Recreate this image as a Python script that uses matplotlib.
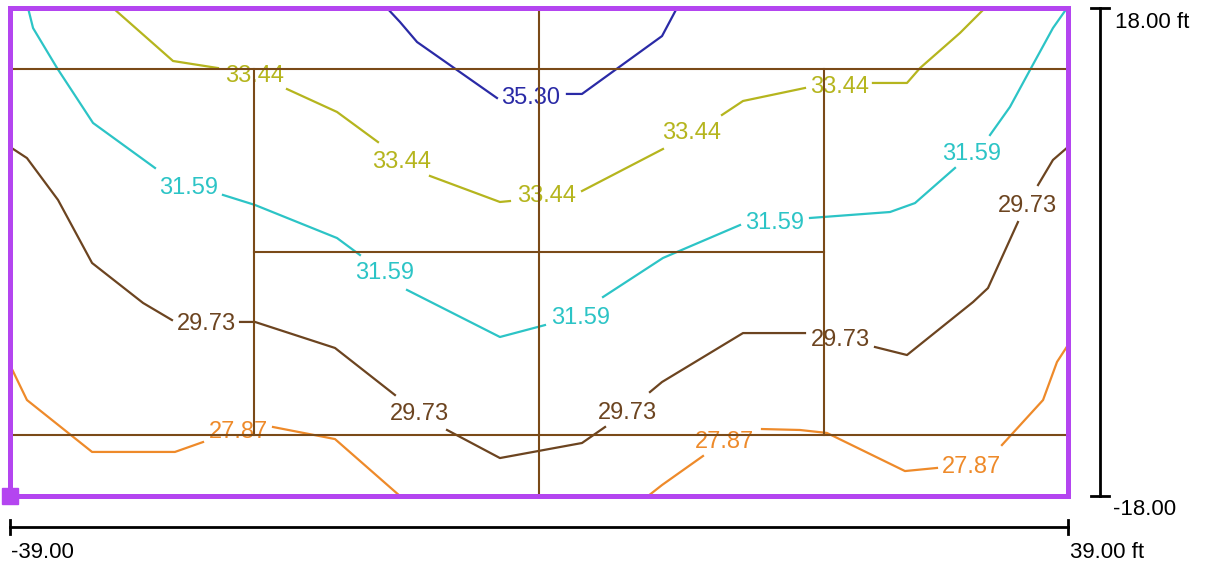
import matplotlib
matplotlib.use('Agg')
import matplotlib.pyplot as plt
from matplotlib.transforms import offset_copy

plt.rcParams['font.family'] = ['Liberation Sans', 'DejaVu Sans']

# Court extents (ft)
x_min, x_max = -39.0, 39.0
y_min, y_max = -18.0, 18.0

# Court markings
singles_y = [-13.5, 13.5]
service_x = [-21.0, 21.0]
net_x = 0.0
center_service_y = 0.0

# Contour levels, colours and label positions
levels = ['35.30', '33.44', '31.59', '29.73', '27.87']
level_colors = ['#2a2aa6', '#b5b51e', '#2cc4c6', '#6c4420', '#ee8a2a']

# each contour level: list of polyline segments (x list, y list), split at label gaps
contour_35_30 = [
    ([-11.21, -10.25, -8.99, -3.10], [18.0, 16.97, 15.49, 11.36]),
    ([2.06, 3.17, 9.07, 10.17], [11.66, 11.66, 15.93, 18.0]),
]
labels_35_30 = [(-0.59, 11.51)]

contour_33_44 = [
    ([-31.41, -26.98, -23.67], [18.0, 14.09, 13.57]),
    ([-18.58, -14.89, -11.87], [12.02, 10.33, 8.11]),
    ([-8.04, -2.88, -2.14], [5.61, 3.69, 3.76]),
    ([3.17, 9.14], [4.50, 7.60]),
    ([13.49, 15.04, 19.61], [10.11, 11.14, 12.10]),
    ([24.62, 27.13, 28.09, 31.04, 32.88], [12.47, 12.47, 13.57, 16.16, 18.0]),
]
labels_33_44 = [(-20.94, 13.20), (-10.10, 6.79), (0.59, 4.28), (11.28, 8.93), (22.19, 12.39)]

contour_31_59 = [
    ([-37.67, -37.30, -35.53, -32.88, -28.31], [18.0, 16.52, 13.57, 9.52, 6.20]),
    ([-23.30, -20.94, -14.89, -13.20], [4.21, 3.47, 1.03, -0.22]),
    ([-9.73, -2.88, 0.44], [-2.80, -6.27, -5.39]),
    ([4.72, 9.14, 14.82], [-3.32, -0.44, 1.99]),
    ([19.98, 25.88, 27.72, 30.67], [2.51, 2.95, 3.61, 6.20]),
    ([33.25, 34.72, 36.20, 37.89, 38.93], [8.63, 10.70, 13.43, 16.52, 18.0]),
]
labels_31_59 = [(-25.80, 4.87), (-11.35, -1.40), (3.10, -4.65), (17.40, 2.29), (31.92, 7.38)]

contour_29_73 = [
    ([-39.0, -37.75, -35.46, -32.95, -29.19, -27.06], [7.75, 6.93, 3.84, -0.81, -3.76, -5.02]),
    ([-22.04, -20.94, -15.04, -10.62], [-5.16, -5.16, -7.08, -10.55]),
    ([-6.78, -2.88, 3.17, 4.87], [-13.13, -15.20, -14.09, -12.91]),
    ([8.18, 9.07, 15.04, 19.61], [-10.33, -9.59, -5.98, -5.98]),
    ([24.77, 27.13, 32.00, 33.10, 35.31], [-7.01, -7.60, -3.69, -2.66, 2.21]),
    ([36.79, 37.89, 39.0], [4.94, 6.79, 7.75]),
]
labels_29_73 = [(-24.55, -5.16), (-8.85, -11.80), (6.49, -11.66), (22.19, -6.34), (35.98, 3.61)]

contour_27_87 = [
    ([-39.0, -37.75, -32.95, -26.84, -24.77], [-8.34, -10.92, -14.75, -14.75, -14.02]),
    ([-19.61, -15.04, -10.25], [-12.91, -13.80, -18.0]),
    ([8.04, 9.07, 12.09], [-18.0, -17.19, -15.05]),
    ([16.44, 19.24, 21.23, 26.98, 29.34], [-13.06, -13.13, -13.35, -16.16, -15.93]),
    ([34.13, 37.16, 38.19, 39.0], [-14.24, -10.92, -8.11, -6.86]),
]
labels_27_87 = [(-22.19, -13.13), (13.71, -13.80), (31.85, -15.64)]

contours = [contour_35_30, contour_33_44, contour_31_59, contour_29_73, contour_27_87]
label_pos = [labels_35_30, labels_33_44, labels_31_59, labels_29_73, labels_27_87]

fig = plt.figure(figsize=(12.05, 5.71), dpi=100)
ax = fig.add_axes([10 / 1205, 75 / 571, 1058 / 1205, 488 / 571])
ax.set_xlim(x_min, x_max)
ax.set_ylim(y_min, y_max)
ax.axis('off')

# labels sit a touch lower than bbox-centre
label_tf = offset_copy(ax.transData, fig=fig, x=0, y=-2.5, units='dots')

court_color = '#7a4a18'
court_lw = 1.5
# singles sidelines
for y in singles_y:
    ax.plot([x_min, x_max], [y, y], color=court_color, lw=court_lw, zorder=4)
# service lines
for x in service_x:
    ax.plot([x, x], [singles_y[0], singles_y[1]], color=court_color, lw=court_lw, zorder=4)
# center service line and net
ax.plot(service_x, [center_service_y, center_service_y], color=court_color, lw=court_lw, zorder=4)
ax.plot([net_x, net_x], [y_min, y_max], color=court_color, lw=court_lw, zorder=4)

# contour lines and labels
for segs, labs, lev, col in zip(contours, label_pos, levels, level_colors):
    for xs, ys in segs:
        ax.plot(xs, ys, color=col, lw=1.6, zorder=3)
    for lx, ly in labs:
        ax.text(lx, ly, lev, color=col, fontsize=17, ha='center', va='center',
                transform=label_tf, zorder=3)

# purple border
border = '#b445f0'
ax.plot([x_min, x_max, x_max, x_min, x_min], [y_min, y_min, y_max, y_max, y_min],
        color=border, lw=3.6, solid_joinstyle='miter', clip_on=False, zorder=5)
ax.plot([x_min], [y_min], marker='s', markersize=11, color=border, clip_on=False, zorder=6)

# dimension bars
bar_x = x_max + 2.36
ax.plot([bar_x, bar_x], [y_min, y_max], color='black', lw=2, clip_on=False)
for y in (y_min, y_max):
    ax.plot([bar_x - 0.66, bar_x + 0.66], [y, y], color='black', lw=2, clip_on=False)
ax.text(bar_x + 1.1, y_max - 1.1, '18.00 ft', fontsize=16, ha='left', va='center')
ax.text(bar_x + 0.95, y_min - 1.03, '-18.00', fontsize=16, ha='left', va='center')

bar_y = y_min - 2.29
ax.plot([x_min, x_max], [bar_y, bar_y], color='black', lw=2, clip_on=False)
for x in (x_min, x_max):
    ax.plot([x, x], [bar_y - 0.52, bar_y + 0.52], color='black', lw=2, clip_on=False)
ax.text(x_min + 0.1, y_min - 4.2, '-39.00', fontsize=16, ha='left', va='center')
ax.text(x_max + 0.15, y_min - 4.2, '39.00 ft', fontsize=16, ha='left', va='center')

fig.savefig('out.png', dpi=100)
